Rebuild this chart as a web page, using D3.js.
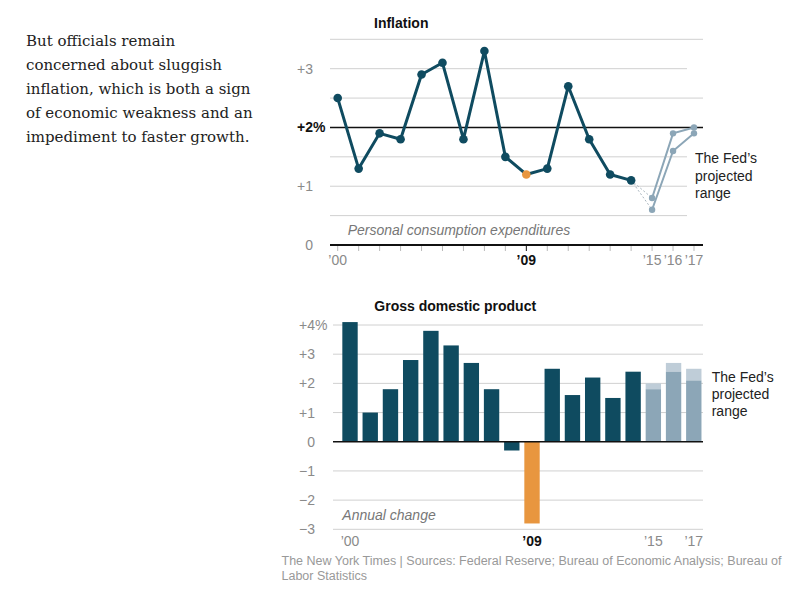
<!DOCTYPE html>
<html>
<head>
<meta charset="utf-8">
<script src="https://cdn.jsdelivr.net/npm/d3@7"></script>
<style>
  html, body { margin: 0; padding: 0; background: #fff; }
  svg { display: block; }
</style>
</head>
<body>
<svg id="chart" width="800" height="603"></svg>
<script>
// ---------- DATA ----------
const paragraph = [
  "But officials remain",
  "concerned about sluggish",
  "inflation, which is both a sign",
  "of economic weakness and an",
  "impediment to faster growth."
];
const years = [2000,2001,2002,2003,2004,2005,2006,2007,2008,2009,2010,2011,2012,2013,2014];
const projYears = [2015,2016,2017];
const allYears = [2000,2001,2002,2003,2004,2005,2006,2007,2008,2009,2010,2011,2012,2013,2014,2015,2016,2017];
const inflation = [2.5,1.3,1.9,1.8,2.9,3.1,1.8,3.3,1.5,1.2,1.3,2.7,1.8,1.2,1.1];
const inflProjHigh = [0.8,1.9,2.0];
const inflProjLow = [0.6,1.6,1.9];
const inflTicks = [0,0.5,1,1.5,2,2.5,3,3.5];
const inflTickLabels = {0:"0",1:"+1",2:"+2",3:"+3"};
const gdp = [4.1,1.0,1.8,2.8,3.8,3.3,2.7,1.8,-0.3,-2.8,2.5,1.6,2.2,1.5,2.4];
const gdpProjLow = [1.8,2.4,2.1];
const gdpProjHigh = [2.0,2.7,2.5];
const gdpTicks = [-3,-2,-1,0,1,2,3,4];
const xLabelsTop = [2000,2009,2015,2016,2017];
const xLabelsBottom = [2000,2009,2015,2017];
const highlightYear = 2009;
const fedNote = ["The Fed\u2019s","projected","range"];
const source = ["The New York Times | Sources: Federal Reserve; Bureau of Economic Analysis; Bureau of", "Labor Statistics"];

// ---------- STYLE ----------
const C = {
  main: "#0f4b60",
  orange: "#e8963f",
  proj: "#8ca6b7",
  projLight: "#bfcdd8",
  grid: "#d0d0d0",
  label: "#8a8a8a",
  text: "#222"
};
const sans = "'Liberation Sans', Arial, sans-serif";
const svg = d3.select("#chart");
const yrLabel = y => "\u2019" + String(y).slice(2);

// ---------- PARAGRAPH ----------
svg.append("g").selectAll("text").data(paragraph).join("text")
  .attr("x", 26).attr("y", (d,i) => 46 + i*24)
  .attr("font-family", "'DejaVu Serif', Georgia, serif")
  .attr("font-size", 15).attr("fill", C.text)
  .text(d => d);

// ---------- INFLATION CHART ----------
const xT = d3.scaleLinear().domain([2000, 2017]).range([337.7, 694]);
const yT = d3.scaleLinear().domain([0, 3.5]).range([245, 39.3]);
const gT = svg.append("g");
const shortLines = [0.5, 1, 1.5, 3];

gT.append("text").attr("x", 374).attr("y", 28)
  .attr("font-family", sans).attr("font-weight", "bold").attr("font-size", 14)
  .attr("fill", "#111").text("Inflation");

gT.selectAll("line.grid").data(inflTicks.filter(t => t !== 0 && t !== 2)).join("line")
  .attr("class","grid")
  .attr("x1", 330).attr("x2", d => shortLines.includes(d) ? 687 : 703)
  .attr("y1", d => yT(d)).attr("y2", d => yT(d))
  .attr("stroke", C.grid).attr("stroke-width", 1);

// +2% reference line
gT.append("line").attr("x1", 330).attr("x2", 703)
  .attr("y1", yT(2)).attr("y2", yT(2)).attr("stroke", "#111").attr("stroke-width", 1.5);

// y labels
Object.keys(inflTickLabels).map(Number).forEach(v => {
  gT.append("text").attr("x", 313).attr("y", yT(v) + 5)
    .attr("font-family", sans).attr("font-size", 14).attr("text-anchor", "end")
    .attr("fill", v === 2 ? "#111" : C.label)
    .attr("font-weight", v === 2 ? "bold" : "normal")
    .text(inflTickLabels[v]);
  if (v === 2) {
    gT.append("text").attr("x", 313).attr("y", yT(v) + 5)
      .attr("font-family", sans).attr("font-size", 14).attr("font-weight","bold")
      .attr("fill", "#111").text("%");
  }
});

// x axis with ticks
gT.append("line").attr("x1", 330).attr("x2", 703)
  .attr("y1", yT(0)).attr("y2", yT(0)).attr("stroke", "#111").attr("stroke-width", 2);
gT.selectAll("line.tick").data(allYears).join("line").attr("class","tick")
  .attr("x1", d => xT(d)).attr("x2", d => xT(d))
  .attr("y1", yT(0) + 1).attr("y2", yT(0) + 6)
  .attr("stroke", d => d === highlightYear ? "#111" : "#bbb").attr("stroke-width", 1);
gT.selectAll("text.xl").data(xLabelsTop).join("text").attr("class","xl")
  .attr("x", d => xT(d)).attr("y", 265)
  .attr("text-anchor", "middle").attr("font-family", sans).attr("font-size", 14)
  .attr("font-weight", d => d === highlightYear ? "bold" : "normal")
  .attr("fill", d => d === highlightYear ? "#111" : C.label)
  .text(yrLabel);

gT.append("text").attr("x", 347.7).attr("y", 235)
  .attr("font-family", sans).attr("font-style", "italic").attr("font-size", 14)
  .attr("fill", "#777").text("Personal consumption expenditures");

// dashed connectors
const last = years.length - 1;
[inflProjHigh, inflProjLow].forEach(arr => {
  gT.append("line")
    .attr("x1", xT(years[last])).attr("y1", yT(inflation[last]))
    .attr("x2", xT(projYears[0])).attr("y2", yT(arr[0]))
    .attr("stroke", "#aab6bf").attr("stroke-width", 1).attr("stroke-dasharray", "2,2");
});
// projection lines
const lineT = d3.line().x(d => xT(d[0])).y(d => yT(d[1]));
[inflProjHigh, inflProjLow].forEach(arr => {
  const pts = projYears.map((y,i) => [y, arr[i]]);
  gT.append("path").attr("d", lineT(pts)).attr("fill","none")
    .attr("stroke", C.proj).attr("stroke-width", 2);
  gT.selectAll(null).data(pts).join("circle")
    .attr("cx", d => xT(d[0])).attr("cy", d => yT(d[1])).attr("r", 3.2)
    .attr("fill", C.proj);
});
// main line
const ptsMain = years.map((y,i) => [y, inflation[i]]);
gT.append("path").attr("d", lineT(ptsMain)).attr("fill","none")
  .attr("stroke", C.main).attr("stroke-width", 3).attr("stroke-linejoin","round");
gT.selectAll("circle.m").data(ptsMain).join("circle").attr("class","m")
  .attr("cx", d => xT(d[0])).attr("cy", d => yT(d[1])).attr("r", 4.3)
  .attr("fill", d => d[0] === highlightYear ? C.orange : C.main);

gT.selectAll("text.fed").data(fedNote).join("text").attr("class","fed")
  .attr("x", 695).attr("y", (d,i) => 163 + i*17.5)
  .attr("font-family", sans).attr("font-size", 14).attr("fill", "#222").text(d => d);

// ---------- GDP CHART ----------
const xB = d3.scaleBand().domain(allYears).range([339.9, 703.9]).paddingInner(0.24).paddingOuter(0.12);
const yB = d3.scaleLinear().domain([-3, 4]).range([529.3, 325]);
const gB = svg.append("g");

gB.append("text").attr("x", 374.3).attr("y", 311)
  .attr("font-family", sans).attr("font-weight", "bold").attr("font-size", 14)
  .attr("fill", "#111").text("Gross domestic product");

gB.selectAll("line.grid").data(gdpTicks.filter(t => t !== 0)).join("line").attr("class","grid")
  .attr("x1", 333).attr("x2", 703)
  .attr("y1", d => yB(d)).attr("y2", d => yB(d))
  .attr("stroke", C.grid).attr("stroke-width", 1);

gdpTicks.forEach(v => {
  gB.append("text").attr("x", 315).attr("y", yB(v) + 5)
    .attr("font-family", sans).attr("font-size", 14).attr("text-anchor", "end")
    .attr("fill", C.label)
    .text(v > 0 ? "+" + v : (v < 0 ? "\u2212" + Math.abs(v) : "0"));
  if (v === 4) {
    gB.append("text").attr("x", 315).attr("y", yB(v) + 5)
      .attr("font-family", sans).attr("font-size", 14).attr("fill", C.label).text("%");
  }
});

gB.selectAll("rect.b").data(years.map((y,i) => [y, gdp[i]])).join("rect").attr("class","b")
  .attr("x", d => xB(d[0])).attr("width", xB.bandwidth())
  .attr("y", d => yB(Math.max(0, d[1])))
  .attr("height", d => Math.abs(yB(d[1]) - yB(0)))
  .attr("fill", d => d[0] === highlightYear ? C.orange : C.main);

const projB = projYears.map((y,i) => [y, gdpProjLow[i], gdpProjHigh[i]]);
gB.selectAll("rect.ph").data(projB).join("rect").attr("class","ph")
  .attr("x", d => xB(d[0])).attr("width", xB.bandwidth())
  .attr("y", d => yB(d[2])).attr("height", d => yB(d[1]) - yB(d[2]))
  .attr("fill", C.projLight);
gB.selectAll("rect.pl").data(projB).join("rect").attr("class","pl")
  .attr("x", d => xB(d[0])).attr("width", xB.bandwidth())
  .attr("y", d => yB(d[1])).attr("height", d => yB(0) - yB(d[1]))
  .attr("fill", C.proj);

gB.append("line").attr("x1", 333).attr("x2", 703)
  .attr("y1", yB(0)).attr("y2", yB(0)).attr("stroke", "#111").attr("stroke-width", 1.5);

gB.selectAll("text.xl").data(xLabelsBottom).join("text").attr("class","xl")
  .attr("x", d => xB(d) + xB.bandwidth()/2).attr("y", 546)
  .attr("text-anchor", "middle").attr("font-family", sans).attr("font-size", 14)
  .attr("font-weight", d => d === highlightYear ? "bold" : "normal")
  .attr("fill", d => d === highlightYear ? "#111" : C.label)
  .text(yrLabel);

gB.append("text").attr("x", 342.3).attr("y", 520)
  .attr("font-family", sans).attr("font-style", "italic").attr("font-size", 14)
  .attr("fill", "#777").text("Annual change");

gB.selectAll("text.fed").data(fedNote).join("text").attr("class","fed")
  .attr("x", 711.7).attr("y", (d,i) => 382 + i*17)
  .attr("font-family", sans).attr("font-size", 14).attr("fill", "#222").text(d => d);

// ---------- SOURCE ----------
svg.append("g").selectAll("text").data(source).join("text")
  .attr("x", 281.5).attr("y", (d,i) => 565 + i*15)
  .attr("font-family", sans).attr("font-size", 12.5).attr("fill", "#999")
  .text(d => d);
</script>
</body>
</html>
